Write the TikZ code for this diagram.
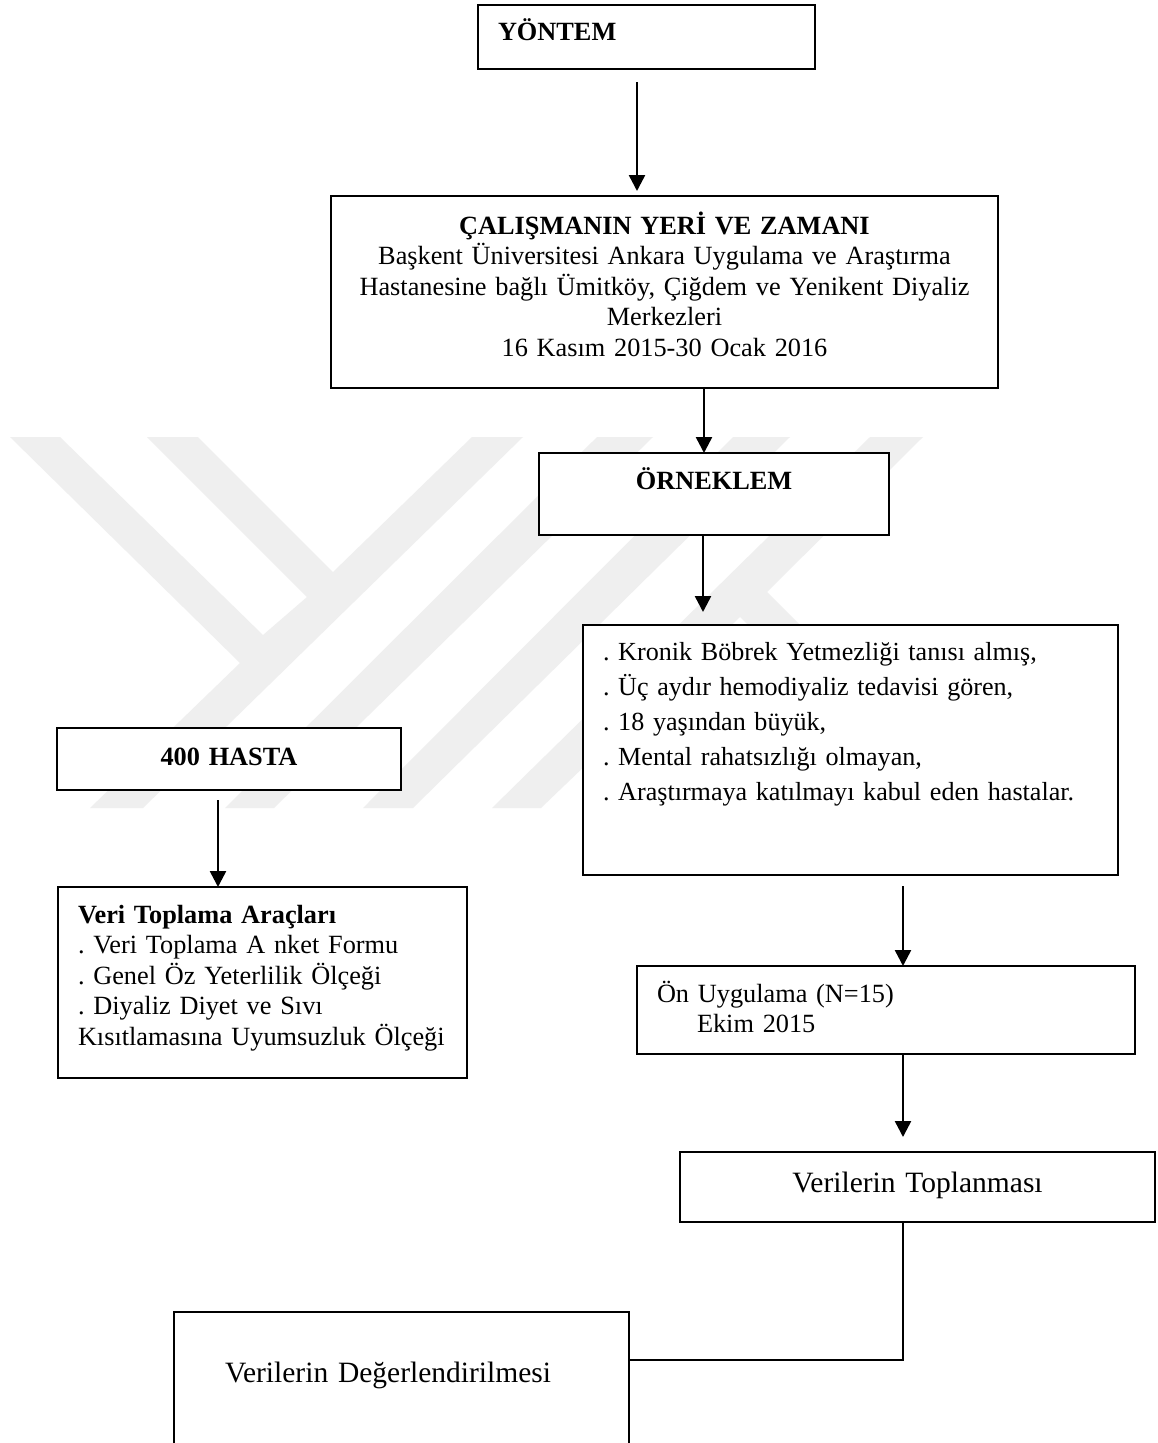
\documentclass[tikz,border=0pt]{standalone}
\usepackage{fontspec}
\setmainfont{Liberation Serif}
\usetikzlibrary{arrows.meta}
\definecolor{filigran}{HTML}{EFEFEF}
\newcommand{\metin}{\fontsize{26.3}{30.6}\selectfont\frenchspacing}
\newcommand{\genis}{\fontsize{26.1}{35}\selectfont\frenchspacing}
\newcommand{\buyuk}{\fontsize{29.5}{34}\selectfont\frenchspacing}
\tikzset{
    kutu/.style n args={3}{draw,fill=white,line width=2,anchor=north west,outer sep=0,
        inner ysep=0,inner xsep=20,text width=#1-40,text height=#2,text depth=#3-#2,font=\metin},
    ok/.style={line width=2.5,arrows=-{Stealth[inset=0,length=16,width=16]}},
    iz/.style={fill=filigran}
}

\begin{document}
\begin{tikzpicture}[x=1pt,y=-1pt]
    \path[use as bounding box,clip] (0,0) rectangle (1158,1443);
    \fill[white] (0,0) rectangle (1158,1443);

    \fill[iz] (10,437) -- (60,437) -- (263,635) -- (307,597) -- (147,437) -- (198,437) -- (333,572) -- (472,437) -- (523,437) -- (143,808) -- (90,808) -- (240,663) -- cycle;
    \fill[iz] (597,437) -- (653,437) -- (274,808) -- (225,808) -- cycle;
    \fill[iz] (733,437) -- (790,437) -- (413,808) -- (363,808) -- cycle;
    \fill[iz] (870,437) -- (923,437) -- (767,592) -- (1000,825) -- (950,825) -- (740,617) -- (541,808) -- (492,808) -- cycle;

    \node[kutu={337}{35.5}{64},align=left] (yontem) at (478,4.5) {\textbf{YÖNTEM}};
    \node[kutu={667}{38}{192},align=center] (calisma) at (331,196) {\textbf{ÇALIŞMANIN YERİ VE ZAMANI}\\
        Başkent Üniversitesi Ankara Uygulama ve Araştırma\\
        Hastanesine bağlı Ümitköy, Çiğdem ve Yenikent Diyaliz\\
        Merkezleri\\
        16 Kasım 2015-30 Ocak 2016};
    \node[kutu={350}{36}{82},align=center] (orneklem) at (539,453) {\textbf{ÖRNEKLEM}};
    \node[kutu={535}{35}{250},align=left,font=\genis] (kriter) at (583,625) {. Kronik Böbrek Yetmezliği tanısı almış,\\
        . Üç aydır hemodiyaliz tedavisi gören,\\
        . 18 yaşından büyük,\\
        . Mental rahatsızlığı olmayan,\\
        . Araştırmaya katılmayı kabul eden hastalar.};
    \node[kutu={344}{37}{62},align=center] (hasta) at (57,728) {\textbf{400 HASTA}};
    \node[kutu={409}{36}{191},align=left] (arac) at (58,887) {\textbf{Veri Toplama Araçları}\\
        . Veri Toplama A nket Formu\\
        . Genel Öz Yeterlilik Ölçeği\\
        . Diyaliz Diyet ve Sıvı\\
        Kısıtlamasına Uyumsuzluk Ölçeği};
    \node[kutu={498}{36}{88},align=left] (onuyg) at (637,966) {Ön Uygulama (N=15)\\
        \hspace*{40pt}Ekim 2015};
    \node[kutu={475}{40}{70},align=center,font=\buyuk] (toplanma) at (680,1152) {Verilerin Toplanması};
    \node[kutu={455}{70}{200},align=left,font=\buyuk] (deger) at (174,1312) {\hspace*{31pt}Verilerin Değerlendirilmesi};

    \coordinate (ok1) at (637,82);
    \coordinate (son1) at (637,191);
    \coordinate (ok2) at (704,388);
    \coordinate (ok3) at (703,535);
    \coordinate (son3) at (703,612);
    \coordinate (ok4) at (218,800);
    \coordinate (ok5) at (903,886);
    \coordinate (ok6) at (903,1054);
    \coordinate (son6) at (903,1137);
    \coordinate (ok7) at (903,1222);
    \coordinate (kose) at (903,1360);

    \draw[ok] (ok1) -- (son1);
    \draw[ok] (ok2) -- (ok2 |- orneklem.north);
    \draw[ok] (ok3) -- (son3);
    \draw[ok] (ok4) -- (ok4 |- arac.north);
    \draw[ok] (ok5) -- (ok5 |- onuyg.north);
    \draw[ok] (ok6) -- (son6);
    \draw[line width=2] (ok7) -- (kose) -- (kose -| deger.east);
\end{tikzpicture}
\end{document}
